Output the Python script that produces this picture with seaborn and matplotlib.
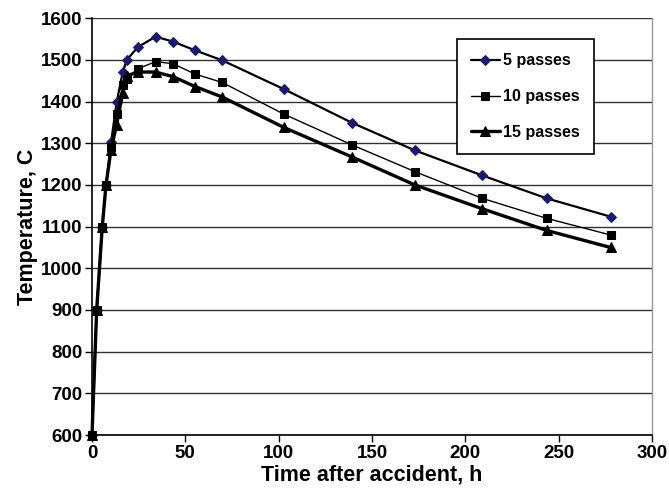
import matplotlib
matplotlib.use("Agg")
import matplotlib.pyplot as plt
import seaborn as sns
import pandas as pd

time_h = [0, 2.5, 5.5, 7.5, 10.2, 13.2, 16.4, 18.6, 24.6, 34.1, 43.4, 55.3, 69.8,
          102.8, 139.4, 173, 209, 243.5, 277.8]
temp_5 = [600, 900, 1100, 1200, 1302, 1398, 1470, 1500, 1531, 1556, 1544, 1523, 1499,
          1430, 1349, 1283, 1223, 1168, 1124]
temp_10 = [600, 900, 1100, 1200, 1290, 1370, 1440, 1455, 1479, 1496, 1491, 1466, 1446,
           1370, 1296, 1232, 1168, 1120, 1080]
temp_15 = [600, 900, 1100, 1200, 1285, 1345, 1420, 1462, 1471, 1471, 1460, 1436, 1411,
           1338, 1267, 1200, 1143, 1091, 1050]
series_names = ["5 passes", "10 passes", "15 passes"]

df = pd.DataFrame({
    "time": time_h * 3,
    "temp": temp_5 + temp_10 + temp_15,
    "series": [series_names[0]] * len(time_h) + [series_names[1]] * len(time_h) + [series_names[2]] * len(time_h),
})

sns.set_theme(style="white")
plt.rcParams["font.family"] = ["Liberation Sans", "DejaVu Sans"]
plt.rcParams["font.weight"] = "bold"
plt.rcParams["text.color"] = "black"
plt.rcParams["axes.labelcolor"] = "black"
plt.rcParams["xtick.color"] = "black"
plt.rcParams["ytick.color"] = "black"

fig = plt.figure(figsize=(6.69, 4.94), dpi=100)
ax = fig.add_axes([92 / 669, 1 - 435 / 494, (652 - 92) / 669, (435 - 18.3) / 494])

styles = {
    "5 passes": dict(marker="D", lw=1.6, ms=5.5, mfc="#1a1a70", mec="#1a1a70"),
    "10 passes": dict(marker="s", lw=1.0, ms=6, mfc="black", mec="black"),
    "15 passes": dict(marker="^", lw=2.4, ms=6.5, mfc="black", mec="black"),
}
for name in series_names:
    sub = df[df["series"] == name]
    st = styles[name]
    sns.lineplot(data=sub, x="time", y="temp", ax=ax, color="black", lw=st["lw"],
                 marker=st["marker"], markersize=st["ms"], markerfacecolor=st["mfc"],
                 markeredgecolor=st["mec"], label=name, legend=False, clip_on=False)

ax.set_xlim(0, 300)
ax.set_ylim(600, 1600)
ax.set_xticks(range(0, 301, 50))
ax.set_yticks(range(600, 1601, 100))
ax.yaxis.grid(True, color="#333333", lw=1.0)
ax.xaxis.grid(False)
ax.set_axisbelow(True)
for s in ["left", "bottom"]:
    ax.spines[s].set_color("black")
    ax.spines[s].set_linewidth(1.2)
ax.spines["top"].set_visible(False)
ax.spines["right"].set_color("#999999")
ax.spines["right"].set_linewidth(1.0)
ax.tick_params(axis="both", direction="out", length=5, width=1, color="black",
               labelcolor="black", labelsize=13.5, pad=2, left=True, bottom=True)
for lab in ax.get_xticklabels() + ax.get_yticklabels():
    lab.set_fontweight("bold")

ax.set_xlabel("Time after accident, h", fontsize=15.5, fontweight="bold", labelpad=2, color="black")
ax.set_ylabel("Temperature, C", fontsize=15.5, fontweight="bold", labelpad=2, color="black")

leg = ax.legend(loc="upper left", bbox_to_anchor=((456.7 - 92) / 560, 1 - (39 - 18.3) / 416.7),
                frameon=True, fancybox=False, edgecolor="black", framealpha=1,
                prop={"weight": "bold", "size": 11.5}, labelspacing=1.3, handlelength=1.8,
                handletextpad=0.2, borderpad=0.9, borderaxespad=0)
leg.get_frame().set_linewidth(1.2)
for t in leg.get_texts():
    t.set_color("black")

fig.savefig("out.png", dpi=100)
